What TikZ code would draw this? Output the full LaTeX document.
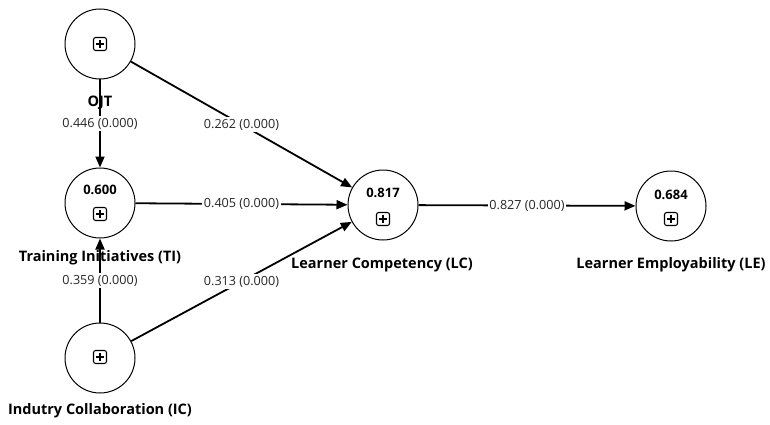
\documentclass[tikz,border=0pt]{standalone}
\usepackage{fontspec}
\setmainfont{Open Sans}
\usetikzlibrary{arrows.meta}

\tikzset{
  latente/.style={circle, draw, line width=1pt, minimum size=70pt, inner sep=0pt},
  boite/.style={draw, rounded corners=2.2pt, minimum size=13pt, inner sep=0pt, line width=1.1pt,
    path picture={\draw[line width=1.1pt]
      ([xshift=-4pt]path picture bounding box.center) -- ([xshift=4pt]path picture bounding box.center)
      ([yshift=-4pt]path picture bounding box.center) -- ([yshift=4pt]path picture bounding box.center);}},
  rsq/.style={font=\bfseries\fontsize{13}{15}\selectfont},
  nom/.style={font=\bfseries\fontsize{14.5}{17}\selectfont},
  poids/.style={fill=white, inner sep=1.5pt, text=black!85, font=\fontsize{12.6}{15}\selectfont},
  fleche/.style={line width=1.8pt, -{Triangle[length=11pt,width=9pt]}},
}

\begin{document}
\begin{tikzpicture}[x=1pt, y=-1pt]
	\useasboundingbox (0,0) rectangle (770,425);
	%Variables latentes
	\node[latente] (OJT) at (100,44) {};
	\node[latente] (TI) at (100,203) {};
	\node[latente] (IC) at (100,358) {};
	\node[latente] (LC) at (383,205) {};
	\node[latente] (LE) at (671,206) {};
	
	%Contenu des cercles
	\node[boite] (bOJT) at (100,44) {};
	\node[rsq] (rTI) at (100,190) {0.600};
	\node[boite] (bTI) at (100,214) {};
	\node[boite] (bIC) at (100,357) {};
	\node[rsq] (rLC) at (383,193) {0.817};
	\node[boite] (bLC) at (383,219) {};
	\node[rsq] (rLE) at (671,195) {0.684};
	\node[boite] (bLE) at (671,219) {};
	
	%Arêtes du modèle
	\draw[fleche] (OJT) -- (TI) node[poids,pos=0.5] {0.446 (0.000)};
	\draw[fleche] (IC) -- (TI) node[poids,pos=0.5] {0.359 (0.000)};
	\draw[fleche] (OJT) -- (LC) node[poids,pos=0.5] {0.262 (0.000)};
	\draw[fleche] (TI) -- (LC) node[poids,pos=0.5] {0.405 (0.000)};
	\draw[fleche] (IC) -- (LC) node[poids,pos=0.5] {0.313 (0.000)};
	\draw[fleche] (LC) -- (LE) node[poids,pos=0.5] {0.827 (0.000)};
	
	%Noms des variables
	\node[nom] (nOJT) at (100,103) {OJT};
	\node[nom] (nTI) at (100,258) {Training Initiatives (TI)};
	\node[nom] (nIC) at (100,411) {Indutry Collaboration (IC)};
	\node[nom] (nLC) at (382,265) {Learner Competency (LC)};
	\node[nom] (nLE) at (671,265) {Learner Employability (LE)};
\end{tikzpicture}
\end{document}
